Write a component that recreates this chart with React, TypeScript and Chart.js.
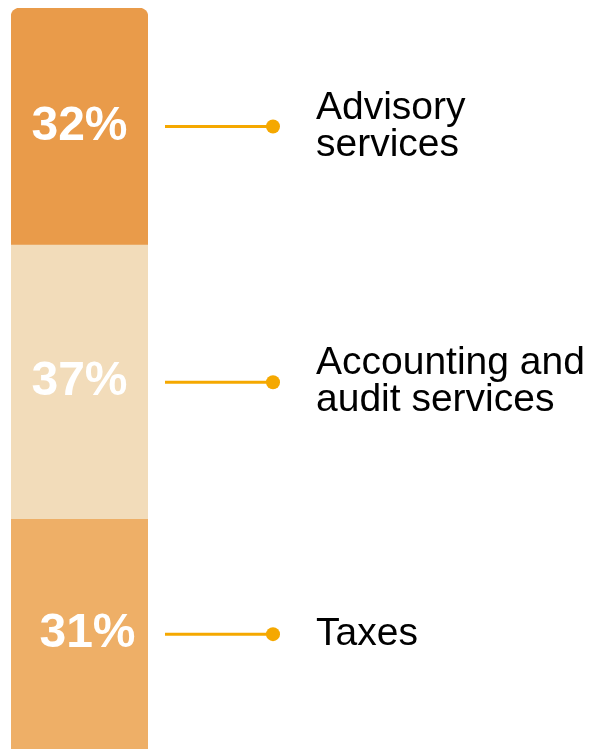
import { useEffect, useRef } from "react";
import { Chart, registerables } from "chart.js";

Chart.register(...registerables);

// ---- Data ----
const categories = ["Revenue structure"];
const seriesNames = ["Taxes", "Accounting and audit services", "Advisory services"];
const taxesValues = [31];
const accountingValues = [37];
const advisoryValues = [32];
const valueLabels = ["31%", "37%", "32%"];
const legendLines = [["Taxes"], ["Accounting and", "audit services"], ["Advisory", "services"]];

// ---- Styles ----
const segmentColors = ["#EEAF67", "#F2DCBA", "#E99B4A"];
const connectorColor = "#F5A800";

const annotatePlugin = {
  id: "annotate",
  afterDatasetsDraw(chart: any) {
    const ctx = chart.ctx;
    const valueDx = [8, 0, 0];
    ctx.save();
    chart.data.datasets.forEach((_: any, i: number) => {
      const meta = chart.getDatasetMeta(i);
      const bar = meta.data[0];
      if (!bar) return;
      const { x, y, base, width } = bar.getProps(["x", "y", "base", "width"], true);
      const cy = (y + base) / 2;
      // value label
      ctx.fillStyle = "#FFFFFF";
      ctx.font = "bold 48px 'Liberation Sans', Arial, sans-serif";
      ctx.textAlign = "center";
      ctx.textBaseline = "middle";
      ctx.fillText(valueLabels[i], x + valueDx[i], cy);
      // connector
      const right = x + width / 2;
      ctx.strokeStyle = connectorColor;
      ctx.lineWidth = 3;
      ctx.beginPath();
      ctx.moveTo(right + 17, cy);
      ctx.lineTo(right + 125, cy);
      ctx.stroke();
      ctx.fillStyle = connectorColor;
      ctx.beginPath();
      ctx.arc(right + 125, cy, 7, 0, Math.PI * 2);
      ctx.fill();
      // legend text
      const lines = legendLines[i];
      ctx.fillStyle = "#000000";
      ctx.font = "39px 'Liberation Sans', Arial, sans-serif";
      ctx.textAlign = "left";
      ctx.textBaseline = "middle";
      const lh = 37;
      lines.forEach((ln: string, k: number) => {
        ctx.fillText(ln, right + 168, cy + (k - (lines.length - 1) / 2) * lh);
      });
    });
    ctx.restore();
  },
};

export default function App() {
  const ref = useRef<HTMLCanvasElement | null>(null);
  useEffect(() => {
    if (!ref.current) return;
    const chart = new Chart(ref.current, {
      type: "bar",
      data: {
        labels: categories,
        datasets: [
          {
            label: seriesNames[0],
            data: taxesValues,
            backgroundColor: segmentColors[0],
            borderWidth: 0,
            borderRadius: 0,
            barPercentage: 1,
            categoryPercentage: 1,
          },
          {
            label: seriesNames[1],
            data: accountingValues,
            backgroundColor: segmentColors[1],
            borderWidth: 0,
            borderRadius: 0,
            barPercentage: 1,
            categoryPercentage: 1,
          },
          {
            label: seriesNames[2],
            data: advisoryValues,
            backgroundColor: segmentColors[2],
            borderWidth: 0,
            borderRadius: { topLeft: 9, topRight: 9, bottomLeft: 0, bottomRight: 0 },
            barPercentage: 1,
            categoryPercentage: 1,
          },
        ],
      },
      options: {
        responsive: false,
        animation: false,
        devicePixelRatio: 1,
        layout: { padding: { top: 8, left: 11, right: 442, bottom: 0 } },
        scales: {
          x: { display: false, stacked: true },
          y: { display: false, stacked: true, min: 0, max: 100 },
        },
        plugins: {
          legend: { display: false },
          tooltip: { enabled: false },
        },
      },
      plugins: [annotatePlugin],
    });
    return () => chart.destroy();
  }, []);
  return (
    <div style={{ position: "absolute", left: 0, top: 0, width: 590, height: 749, overflow: "hidden", background: "#fff" }}>
      <canvas ref={ref} width={590} height={749} style={{ display: "block" }} />
    </div>
  );
}
